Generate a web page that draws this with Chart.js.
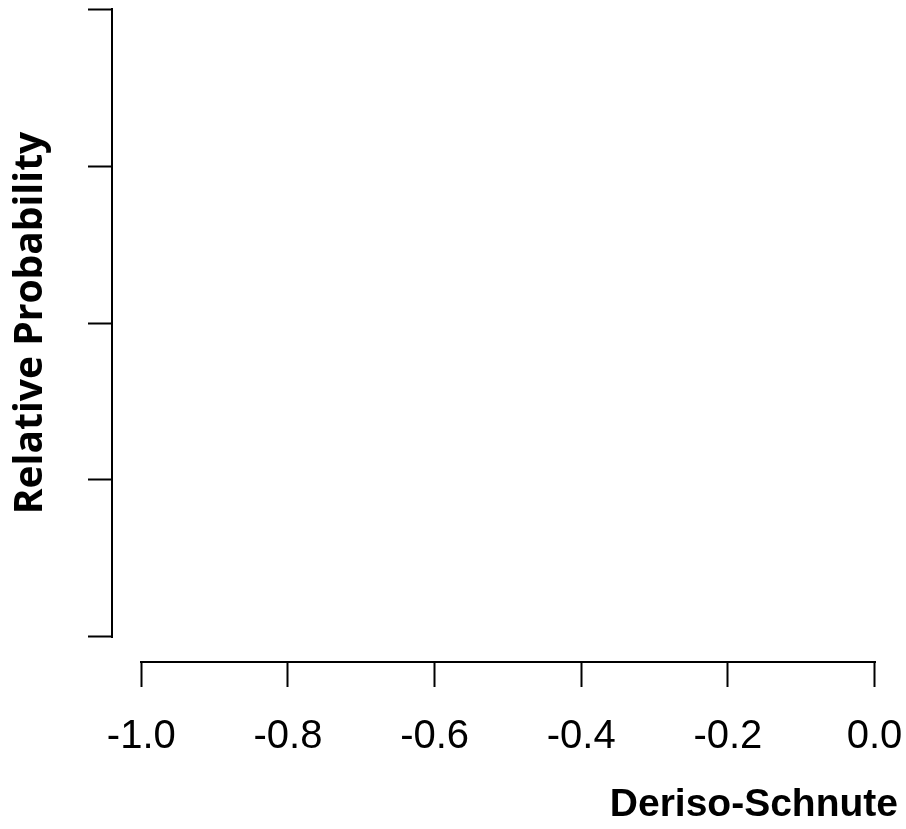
<!DOCTYPE html>
<html>
<head>
<meta charset="utf-8">
<title>Deriso-Schnute</title>
<script src="https://cdn.jsdelivr.net/npm/chart.js@4"></script>
<style>
    body { margin: 0; background: #fff; overflow: hidden; height: 829px; }
    /* a região do gráfico começa um pouco acima da página, como no R */
    canvas { display: block; margin-top: -16px; }
</style>
</head>
<body>
<canvas id="grafico" width="906" height="845"></canvas>
<script>
// Valores dos eixos
const xTicks = [-1.0, -0.8, -0.6, -0.4, -0.2, 0.0];
const yTicks = [0, 1, 2, 3, 4]; // ticks sem rótulo
const xRange = [-1.04, 0.032];  // folga nas pontas como no R
const yRange = [-0.16, 4.16];
const xTitle = 'Deriso-Schnute';
const yTitle = 'Relative Probability';
const pontos = []; // nenhum ponto desenhado

// Desenha as linhas dos eixos só entre o primeiro e o último tick (estilo R)
const eixosR = {
    id: 'eixosR',
    afterDraw(chart) {
    const ctx = chart.ctx;
    const sx = chart.scales.x;
    const sy = chart.scales.y;
    const area = chart.chartArea;
    ctx.save();
    ctx.strokeStyle = '#000';
    ctx.lineWidth = 2;
    ctx.lineCap = 'square';
    ctx.beginPath();
    ctx.moveTo(Math.round(sx.getPixelForValue(xTicks[0])), area.bottom);
    ctx.lineTo(Math.round(sx.getPixelForValue(xTicks[xTicks.length - 1])), area.bottom);
    ctx.moveTo(area.left, Math.round(sy.getPixelForValue(yTicks[0])));
    ctx.lineTo(area.left, Math.round(sy.getPixelForValue(yTicks[yTicks.length - 1])));
    ctx.stroke();
    ctx.restore();
    }
};

const ctx = document.getElementById('grafico').getContext('2d');
new Chart(ctx, {
    type: 'scatter',
    data: {
    datasets: [{ data: pontos }]
    },
    options: {
    responsive: false,
    animation: false,
    layout: { padding: { top: 0, right: 8, bottom: 0, left: 0 } },
    plugins: {
        legend: { display: false },
        tooltip: { enabled: false }
    },
    scales: {
        x: {
        type: 'linear',
        position: 'bottom',
        min: xRange[0],
        max: xRange[1],
        afterBuildTicks: scale => { scale.ticks = xTicks.map(v => ({ value: v })); },
        afterFit: scale => { scale.height = 167; },
        border: { display: false },
        grid: {
            drawOnChartArea: false,
            drawTicks: true,
            tickLength: 25,
            tickWidth: 2,
            tickColor: '#000'
        },
        ticks: {
            autoSkip: false,
            maxRotation: 0,
            padding: 0, // o espaço vem do lineHeight, senão o Chart.js encolhe a área
            color: '#000',
            font: { family: "'Liberation Sans', Arial, sans-serif", size: 40, lineHeight: 2.5 },
            callback: v => v.toFixed(1)
        },
        title: {
            display: true,
            text: xTitle,
            align: 'end',
            color: '#000',
            padding: { top: 0, bottom: 0 },
            font: { family: "'Liberation Sans', Arial, sans-serif", size: 39, weight: 'bold', lineHeight: 1.2 }
        }
        },
        y: {
        type: 'linear',
        position: 'left',
        min: yRange[0],
        max: yRange[1],
        afterBuildTicks: scale => { scale.ticks = yTicks.map(v => ({ value: v })); },
        afterFit: scale => { scale.width = 112; },
        border: { display: false },
        grid: {
            drawOnChartArea: false,
            drawTicks: true,
            tickLength: 24,
            tickWidth: 2,
            tickColor: '#000'
        },
        ticks: { display: false },
        title: {
            display: true,
            text: yTitle,
            color: '#000',
            padding: { top: 7, bottom: 0 },
            font: { family: "'Open Sans', sans-serif", size: 39, weight: 'bold', lineHeight: 1.2 }
        }
        }
    }
    },
    plugins: [eixosR]
});
</script>
</body>
</html>
